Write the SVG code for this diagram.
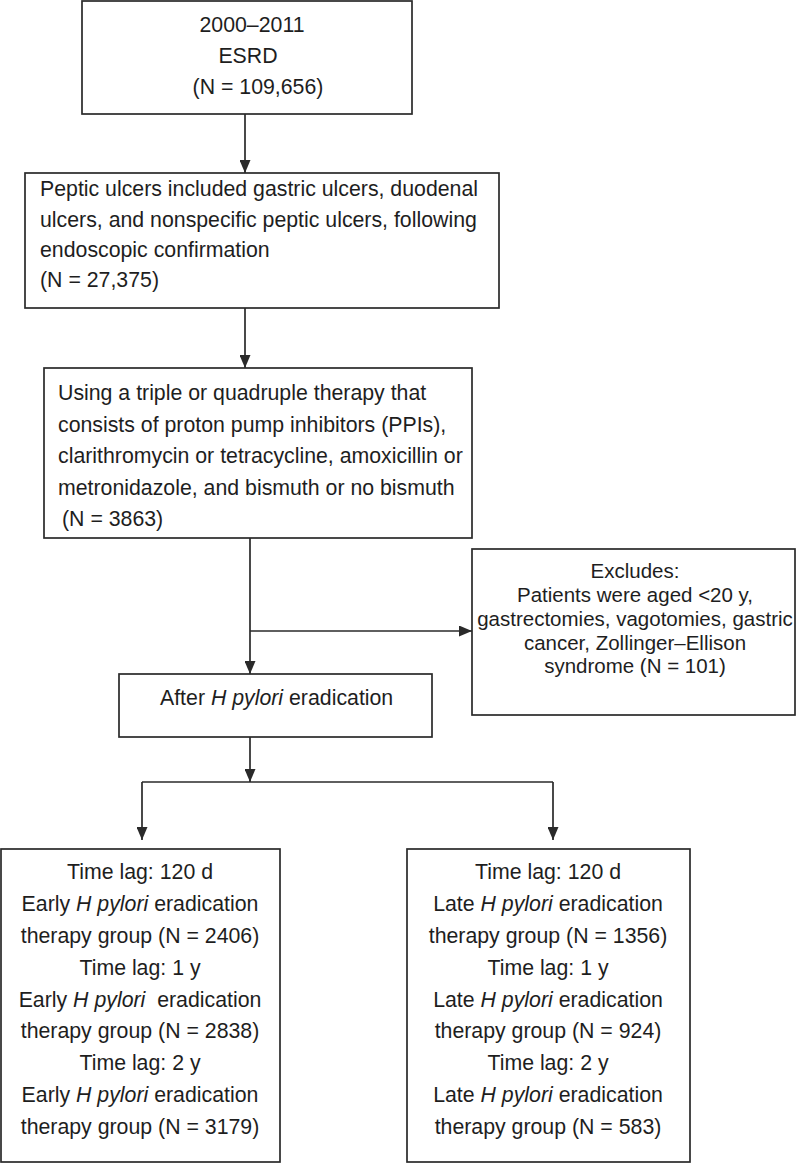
<svg xmlns="http://www.w3.org/2000/svg" width="800" height="1164" viewBox="0 0 800 1164">
<style>
.box{fill:#fff;stroke:#2a2a2a;stroke-width:1.7}
.t{font-family:"Liberation Sans",Arial,sans-serif;font-size:21.3px;fill:#1e1e1e}
.c{text-anchor:middle}
.ex{font-size:20.5px}
.i{font-style:italic}
.conn line{stroke:#2a2a2a;stroke-width:1.7}
</style>
<defs>
<marker id="ah" markerUnits="userSpaceOnUse" markerWidth="13" markerHeight="11" refX="13" refY="5.5" orient="auto">
<path d="M0,0 L13,5.5 L0,11 z" fill="#2a2a2a"/>
</marker>
</defs>
<rect width="800" height="1164" fill="#fff"/>
<g class="conn">
<line x1="245" y1="114" x2="245" y2="173" marker-end="url(#ah)"/>
<line x1="245" y1="308" x2="245" y2="368" marker-end="url(#ah)"/>
<line x1="250" y1="538" x2="250" y2="674" marker-end="url(#ah)"/>
<line x1="250" y1="631" x2="472" y2="631" marker-end="url(#ah)"/>
<line x1="250" y1="737" x2="250" y2="782" marker-end="url(#ah)"/>
<line x1="142" y1="782" x2="553" y2="782"/>
<line x1="142" y1="782" x2="142" y2="840" marker-end="url(#ah)"/>
<line x1="553" y1="782" x2="553" y2="840" marker-end="url(#ah)"/>
</g>
<g id="n1">
<rect class="box" x="82" y="1" width="330" height="113"/>
<text class="t c" x="252" y="32">2000–2011</text>
<text class="t c" x="248" y="63">ESRD</text>
<text class="t c" x="258" y="94">(N = 109,656)</text>
</g>
<g id="n2">
<rect class="box" x="25" y="173" width="474" height="135"/>
<text class="t" x="40" y="196">Peptic ulcers included gastric ulcers, duodenal</text>
<text class="t" x="40" y="227">ulcers, and nonspecific peptic ulcers, following</text>
<text class="t" x="40" y="257">endoscopic confirmation</text>
<text class="t" x="40" y="287">(N = 27,375)</text>
</g>
<g id="n3">
<rect class="box" x="44" y="368" width="428" height="170"/>
<text class="t" x="58" y="400">Using a triple or quadruple therapy that</text>
<text class="t" x="58" y="431.5">consists of proton pump inhibitors (PPIs),</text>
<text class="t" x="58" y="463">clarithromycin or tetracycline, amoxicillin or</text>
<text class="t" x="58" y="494.5">metronidazole, and bismuth or no bismuth</text>
<text class="t" x="62" y="526">(N = 3863)</text>
</g>
<g id="n4">
<rect class="box" x="472" y="549" width="323" height="166"/>
<text class="t c ex" x="635" y="578">Excludes:</text>
<text class="t c ex" x="635" y="602">Patients were aged &lt;20 y,</text>
<text class="t c ex" x="635" y="626">gastrectomies, vagotomies, gastric</text>
<text class="t c ex" x="635" y="650">cancer, Zollinger–Ellison</text>
<text class="t c ex" x="635" y="673">syndrome (N = 101)</text>
</g>
<g id="n5">
<rect class="box" x="119" y="674" width="313" height="63"/>
<text class="t" x="160" y="705">After <tspan class="i">H pylori</tspan> eradication</text>
</g>
<g id="n6">
<rect class="box" x="1" y="849" width="279" height="313"/>
<text class="t c" x="140" y="879">Time lag: 120 d</text>
<text class="t c" x="140" y="911">Early <tspan class="i">H pylori</tspan> eradication</text>
<text class="t c" x="140" y="943">therapy group (N = 2406)</text>
<text class="t c" x="140" y="975">Time lag: 1 y</text>
<text class="t c" x="140" y="1007" xml:space="preserve">Early <tspan class="i">H pylori</tspan>  eradication</text>
<text class="t c" x="140" y="1038">therapy group (N = 2838)</text>
<text class="t c" x="140" y="1070">Time lag: 2 y</text>
<text class="t c" x="140" y="1102">Early <tspan class="i">H pylori</tspan> eradication</text>
<text class="t c" x="140" y="1134">therapy group (N = 3179)</text>
</g>
<g id="n7">
<rect class="box" x="407" y="849" width="283" height="313"/>
<text class="t c" x="548" y="879">Time lag: 120 d</text>
<text class="t c" x="548" y="911">Late <tspan class="i">H pylori</tspan> eradication</text>
<text class="t c" x="548" y="943">therapy group (N = 1356)</text>
<text class="t c" x="548" y="975">Time lag: 1 y</text>
<text class="t c" x="548" y="1007">Late <tspan class="i">H pylori</tspan> eradication</text>
<text class="t c" x="548" y="1038">therapy group (N = 924)</text>
<text class="t c" x="548" y="1070">Time lag: 2 y</text>
<text class="t c" x="548" y="1102">Late <tspan class="i">H pylori</tspan> eradication</text>
<text class="t c" x="548" y="1134">therapy group (N = 583)</text>
</g>
</svg>
